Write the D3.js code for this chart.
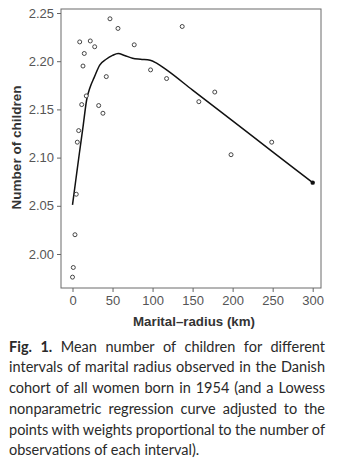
<!DOCTYPE html>
<html>
<head>
<meta charset="utf-8">
<script src="https://cdn.jsdelivr.net/npm/d3@7"></script>
<style>
  html, body { margin: 0; padding: 0; background: #fff; }
  svg { display: block; }
</style>
</head>
<body>
<svg id="chart" width="337" height="471"></svg>
<script>
// Mean number of children per marital-radius interval (km)
const radiusKm = [0, 1, 3.1, 4.7, 6.0, 7.7, 9.0, 11.5, 13.1, 14.7, 17.2, 22.2, 27.7,
  32.7, 38.0, 42.2, 46.8, 56.8, 77.1, 97.5, 117.5, 137, 157.8, 177.7, 198, 248.8];
const meanChildren = [1.976, 1.986, 2.020, 2.062, 2.116, 2.128, 2.220, 2.155, 2.195, 2.208,
  2.164, 2.221, 2.215, 2.154, 2.146, 2.184, 2.244, 2.234, 2.217, 2.191, 2.182, 2.236,
  2.158, 2.168, 2.103, 2.116];
// Last interval, drawn filled
const lastRadius = [300];
const lastMean = [2.074];

// Lowess regression curve
const lowessX = [0, 4, 8.5, 13, 17.7, 22, 27, 34, 42, 50, 57, 65, 75, 85, 97, 105, 117.5, 150, 200, 250, 300];
const lowessY = [2.051, 2.076, 2.104, 2.131, 2.160, 2.173, 2.183, 2.196, 2.202, 2.206, 2.208,
  2.206, 2.203, 2.202, 2.201, 2.198, 2.191, 2.170, 2.138, 2.106, 2.074];

const xTicks = [0, 50, 100, 150, 200, 250, 300];
const yTicks = [2.00, 2.05, 2.10, 2.15, 2.20, 2.25];

const captionLines = [
  "Mean number of children for different",
  "intervals of marital radius observed in the Danish",
  "cohort of all women born in 1954 (and a Lowess",
  "nonparametric regression curve adjusted to the",
  "points with weights proportional to the number of",
  "observations of each interval)."
];

const svg = d3.select("#chart");
const plot = { left: 61, top: 9, right: 321, bottom: 288 };

const x = d3.scaleLinear().domain([0, 300]).range([72.5, 312.7]);
const y = d3.scaleLinear().domain([2.00, 2.25]).range([254, 13]);

// Frame
svg.append("rect")
  .attr("x", plot.left).attr("y", plot.top)
  .attr("width", plot.right - plot.left).attr("height", plot.bottom - plot.top)
  .attr("fill", "none").attr("stroke", "#6a6a6a").attr("stroke-width", 1);

const tickFont = "'Liberation Sans', Arial, Helvetica, sans-serif";

// Axes
const xAxis = svg.append("g")
  .attr("transform", `translate(0,${plot.bottom})`)
  .call(d3.axisBottom(x).tickValues(xTicks).tickSize(4).tickPadding(4).tickFormat(d3.format("d")));
const yAxis = svg.append("g")
  .attr("transform", `translate(${plot.left},0)`)
  .call(d3.axisLeft(y).tickValues(yTicks).tickSize(4).tickPadding(3).tickFormat(d3.format(".2f")));

[xAxis, yAxis].forEach(g => {
  g.select(".domain").remove();
  g.selectAll(".tick line").attr("stroke", "#666");
  g.selectAll(".tick text")
    .attr("fill", "#555")
    .style("font-family", tickFont)
    .style("font-size", "13px");
});

// Axis titles
svg.append("text")
  .attr("x", 194).attr("y", 326)
  .attr("text-anchor", "middle")
  .attr("fill", "#333")
  .style("font-family", tickFont)
  .style("font-size", "13.3px")
  .style("font-weight", "bold")
  .text("Marital–radius (km)");

svg.append("text")
  .attr("transform", "translate(21,147.5) rotate(-90)")
  .attr("text-anchor", "middle")
  .attr("fill", "#333")
  .style("font-family", tickFont)
  .style("font-size", "13.5px")
  .style("font-weight", "bold")
  .text("Number of children");

// Lowess curve
const lowess = lowessX.map((d, i) => [d, lowessY[i]]);
svg.append("path")
  .datum(lowess)
  .attr("fill", "none")
  .attr("stroke", "#111")
  .attr("stroke-width", 1.5)
  .attr("d", d3.line().x(d => x(d[0])).y(d => y(d[1])).curve(d3.curveMonotoneX));

// Data points
svg.append("g").selectAll("circle")
  .data(radiusKm.map((d, i) => [d, meanChildren[i]]))
  .join("circle")
  .attr("cx", d => x(d[0])).attr("cy", d => y(d[1]))
  .attr("r", 2)
  .attr("fill", "#fff")
  .attr("stroke", "#333")
  .attr("stroke-width", 0.9);

svg.append("g").selectAll("circle")
  .data(lastRadius.map((d, i) => [d, lastMean[i]]))
  .join("circle")
  .attr("cx", d => x(d[0])).attr("cy", d => y(d[1]))
  .attr("r", 2.2)
  .attr("fill", "#111");

// Caption, justified except for the last line
const capFont = "Lato, 'Open Sans', sans-serif";
const capLeft = 9, capRight = 325, capTop = 351.7, capStep = 20.7;
const cap = svg.append("g")
  .attr("fill", "#2a2a2a")
  .style("font-family", capFont)
  .style("font-size", "14.5px");

captionLines.forEach((line, i) => {
  const t = cap.append("text")
    .attr("x", capLeft)
    .attr("y", capTop + i * capStep);
  if (i === 0) {
    t.append("tspan").style("font-weight", "bold").text("Fig. 1. ");
  }
  t.append("tspan").text(line);
  if (i < captionLines.length - 1) {
    // spread words across the full column width
    const natural = t.node().getComputedTextLength();
    const gaps = (i === 0 ? ("Fig. 1. " + line) : line).split(" ").length - 1;
    const extra = (capRight - capLeft - natural) / gaps;
    t.attr("word-spacing", extra);
  }
});
</script>
</body>
</html>
